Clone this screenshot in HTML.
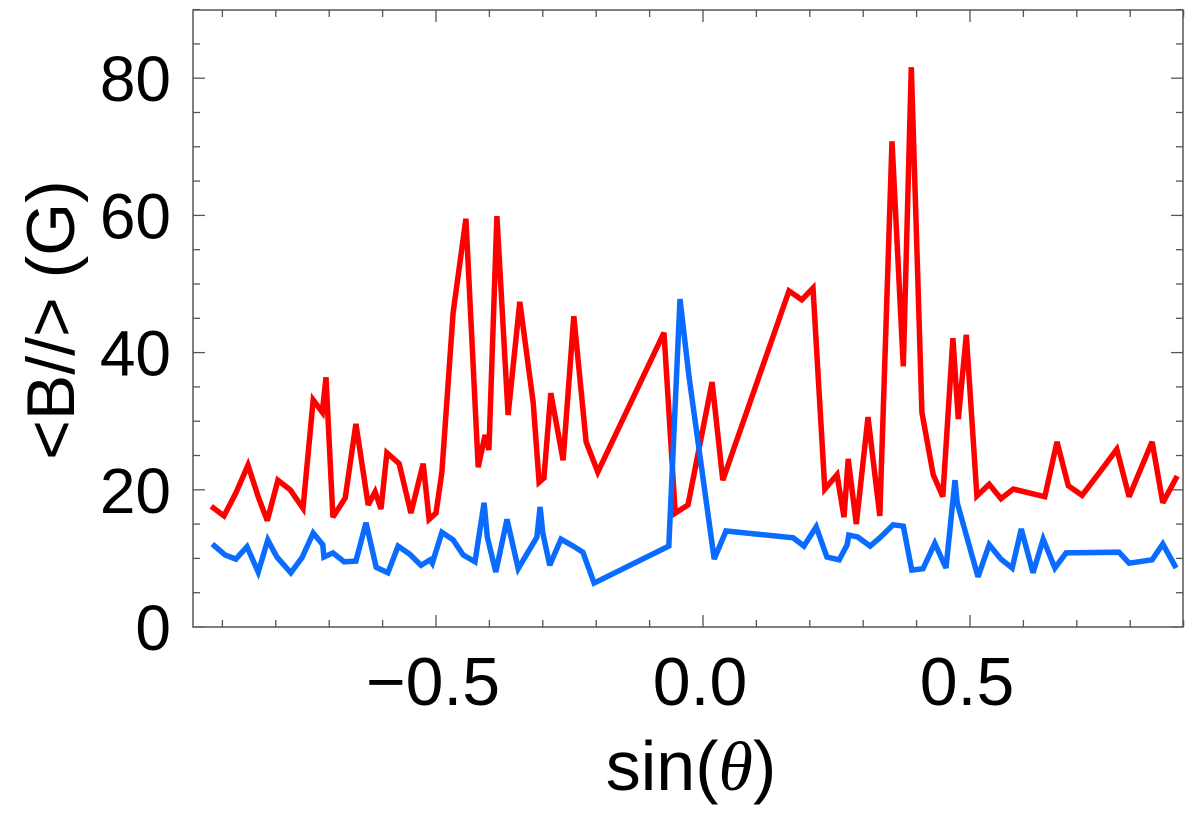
<!DOCTYPE html>
<html><head><meta charset="utf-8"><style>
html,body{margin:0;padding:0;background:#fff;}
svg{display:block;font-family:"Liberation Sans",sans-serif;}
</style></head><body>
<svg id="chart" width="1200" height="829" viewBox="0 0 1200 829" xmlns="http://www.w3.org/2000/svg">
<g id="axes"></g>
<g id="series"></g>
<text x="691" y="790" font-size="70" text-anchor="middle">sin(<tspan font-style="italic" font-family="Liberation Serif, serif">θ</tspan>)</text>
<text transform="translate(74,320) rotate(-90)" font-size="68" text-anchor="middle">&lt;B//&gt; (G)</text>
</svg>
<script>
const redX=[-0.921,-0.897,-0.875,-0.852,-0.833,-0.816,-0.796,-0.773,-0.749,-0.730,-0.713,-0.706,-0.693,-0.670,-0.650,-0.627,-0.614,-0.603,-0.592,-0.569,-0.547,-0.524,-0.513,-0.500,-0.489,-0.468,-0.444,-0.421,-0.408,-0.401,-0.386,-0.365,-0.343,-0.318,-0.307,-0.298,-0.285,-0.262,-0.242,-0.219,-0.197,-0.073,-0.052,-0.028,0.017,0.037,0.161,0.185,0.206,0.228,0.251,0.264,0.272,0.287,0.309,0.331,0.354,0.375,0.390,0.410,0.431,0.449,0.468,0.478,0.493,0.513,0.536,0.558,0.581,0.640,0.663,0.684,0.710,0.749,0.775,0.798,0.841,0.861,0.888];
const redY=[17.6,16.2,19.5,23.6,19.0,15.5,21.4,20.0,17.3,33.1,31.3,36.4,16.0,18.8,29.6,17.8,19.7,17.2,25.4,23.8,16.6,23.8,15.7,16.6,22.6,45.8,59.5,23.3,28.0,25.8,59.9,30.9,47.4,32.7,21.1,21.7,34.1,24.3,45.3,27.0,22.6,42.9,16.6,17.8,35.7,21.4,49.0,47.7,49.4,20.1,22.2,16.0,24.5,15.0,30.6,16.2,70.8,38.0,81.6,31.3,22.2,19.0,42.1,30.3,42.6,19.1,20.8,18.7,20.1,19.0,27.0,20.6,19.2,23.2,25.9,19.0,27.0,18.1,22.0];
const blueX=[-0.919,-0.895,-0.875,-0.854,-0.833,-0.815,-0.798,-0.772,-0.751,-0.730,-0.712,-0.710,-0.693,-0.672,-0.650,-0.631,-0.612,-0.590,-0.571,-0.549,-0.528,-0.511,-0.507,-0.489,-0.468,-0.449,-0.427,-0.410,-0.404,-0.388,-0.367,-0.346,-0.311,-0.305,-0.300,-0.287,-0.266,-0.243,-0.225,-0.204,-0.064,-0.043,-0.026,0.021,0.043,0.169,0.189,0.212,0.232,0.255,0.270,0.273,0.290,0.313,0.331,0.356,0.375,0.391,0.412,0.434,0.455,0.472,0.476,0.515,0.536,0.558,0.579,0.596,0.618,0.637,0.659,0.680,0.779,0.798,0.841,0.861,0.886];
const blueY=[12.1,10.5,9.9,11.7,8.0,12.7,10.2,7.9,10.1,13.7,12.0,10.2,10.8,9.5,9.6,15.2,8.7,7.9,11.8,10.6,9.0,9.8,9.3,13.8,12.7,10.5,9.5,18.1,13.1,8.0,15.7,8.5,13.1,17.5,13.7,9.0,12.8,11.8,10.9,6.4,11.8,47.8,36.4,9.9,14.0,13.0,11.8,14.6,10.2,9.8,12.0,13.4,13.1,11.8,13.0,14.9,14.7,8.3,8.5,12.2,8.6,21.4,18.1,7.3,12.0,9.9,8.6,14.3,7.9,12.8,8.6,10.8,10.9,9.3,9.8,12.1,8.6];
const xTicks=[-0.5,0.0,0.5];
const xTickLabels=["\u22120.5","0.0","0.5"];
const yTicks=[0,20,40,60,80];
const yTickLabels=["0","20","40","60","80"];

const L=193,R=1183,T=10,B=627;
function sx(v){return 703+v*534;}
function sy(v){return 627-v*6.86;}
const NS="http://www.w3.org/2000/svg";
const axes=document.getElementById('axes');
function mk(tag,attrs,parent){const e=document.createElementNS(NS,tag);for(const k in attrs)e.setAttribute(k,attrs[k]);parent.appendChild(e);return e;}
const frame=mk('rect',{x:L,y:T,width:R-L,height:B-T,fill:'none',stroke:'#555','stroke-width':1.5},axes);


for(let i=-9;i<=9;i++){
  const v=i/10, x=sx(v); if(x<L-1||x>R+1) continue;
  const len=(i%5===0)?12:7;
  const t1=mk('line',{x1:x,y1:B,x2:x,y2:B-len,stroke:'#555','stroke-width':1.3},axes);
  
  
  const t2=mk('line',{x1:x,y1:T,x2:x,y2:T+len,stroke:'#555','stroke-width':1.3},axes);
  
  
}
for(let v=0;v<=90;v+=5){
  const y=sy(v); const len=(v%20===0)?12:7;
  const t1=mk('line',{x1:L,y1:y,x2:L+len,y2:y,stroke:'#555','stroke-width':1.3},axes);
  
  
  const t2=mk('line',{x1:R,y1:y,x2:R-len,y2:y,stroke:'#555','stroke-width':1.3},axes);
  
  
}
xTicks.forEach((v,i)=>{
  const t=mk('text',{x:sx(v)-3,y:705,'font-size':68,'text-anchor':'middle'},axes);
  t.textContent=xTickLabels[i];
  
  
});
yTicks.forEach((v,i)=>{
  const t=mk('text',{x:171,y:sy(v)+23,'font-size':64,'text-anchor':'end'},axes);
  t.textContent=yTickLabels[i];
  
  
});
const ser=document.getElementById('series');
function line(xs,ys,color,name){
  const d=xs.map((x,i)=>(i?'L':'M')+sx(x).toFixed(1)+','+sy(ys[i]).toFixed(1)).join('');
  const p=mk('path',{d:d,fill:'none',stroke:color,'stroke-width':5.5,'stroke-linejoin':'miter','stroke-miterlimit':3},ser);
  
  
}
line(redX,redY,'#ff0000','red-series-line');
line(blueX,blueY,'#0a6cff','blue-series-line');
</script>
</body></html>
